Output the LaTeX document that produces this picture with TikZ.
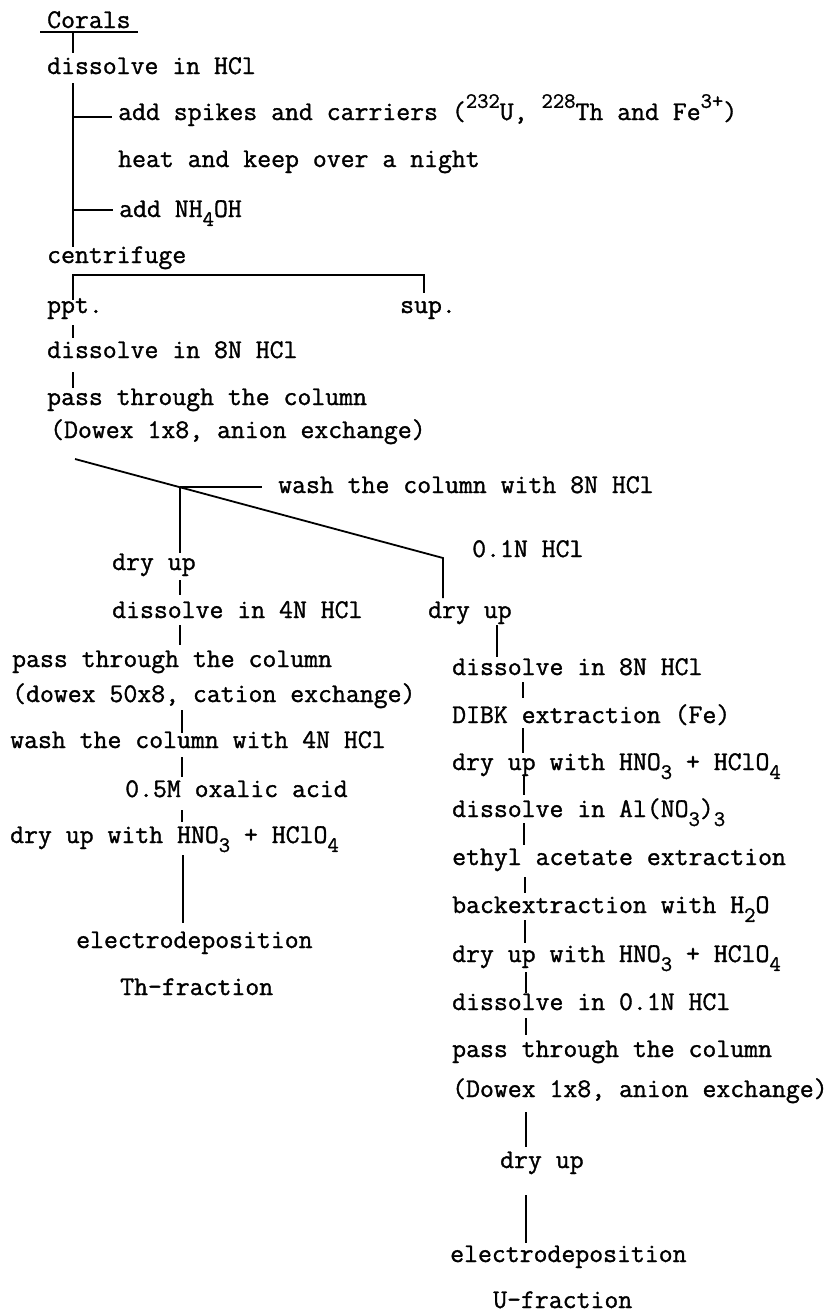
\documentclass[tikz,border=0pt]{standalone}
\usepackage{fontspec}
\setmonofont{Latin Modern Mono}[FakeBold=1.2]
\newcommand{\mysub}[1]{\raisebox{-0.33em}{\fontsize{22}{22}\selectfont #1}}
\newcommand{\mysup}[1]{\raisebox{0.45em}{\fontsize{22}{22}\selectfont #1}}
\begin{document}
\begin{tikzpicture}[x=1pt,y=-1pt,
  txt/.style={anchor=base west,inner sep=0pt,font=\ttfamily\bfseries\fontsize{27}{31}\selectfont},
  ln/.style={line width=1.8pt}]
\useasboundingbox (0,0) rectangle (825,1312);
% ---- top part
\node[txt] (corals) at (47,28) {Corals};
\coordinate (ulA) at (40,32); \coordinate (ulB) at (138,32);
\draw[ln] (ulA) -- (ulB);
\node[txt] (dis1) at (47,74) {dissolve in HCl};
\draw[ln] (73,32) -- (73,53);
\coordinate (m1) at (73,83); \coordinate (m2) at (73,247);
\draw[ln] (m1) -- (m2);
\node[txt] (spk) at (118,120) {add spikes and carriers (\mysup{232}U, \mysup{228}Th and Fe\mysup{3+})};
\node[txt] (heat) at (118,167) {heat and keep over a night};
\node[txt] (nh4) at (119,217) {add NH\mysub{4}OH};
\coordinate (b1) at (73,117); \coordinate (b2) at (73,210);
\draw[ln] (b1) -- (112,117);
\draw[ln] (b2) -- (113,210);
\node[txt] (cent) at (47,263) {centrifuge};
\coordinate (h1) at (73,275); \coordinate (h2) at (424,275);
\draw[ln] (73,300) -- (h1) -- (h2) -- (424,293);
\node[txt] (ppt) at (47,313) {ppt.};
\node[txt] (sup) at (400,313) {sup.};
\draw[ln] (73,325) -- (73,338);
\node[txt] (dis8) at (47,358) {dissolve in 8N HCl};
\draw[ln] (73,372) -- (73,388);
\node[txt] (pass1) at (47,405) {pass through the column};
\node[txt] (dow1) at (50,438) {(Dowex 1x8, anion exchange)};
% ---- split
\coordinate (dA) at (75,459);
\coordinate (dJ) at (180,487);
\coordinate (dB) at (443,558);
\draw[ln] (dA) -- (dB) -- (443,598);
\draw[ln] (dJ) -- (262,487);
\draw[ln] (dJ) -- (180,553);
\node[txt] (wash8) at (278,493) {wash the column with 8N HCl};
\node[txt] (hcl01) at (472,557) {0.1N HCl};
% ---- left (Th) branch
\node[txt] (dryL) at (112,570) {dry up};
\draw[ln] (180,580) -- (180,595);
\node[txt] (dis4) at (112,618) {dissolve in 4N HCl};
\draw[ln] (180,625) -- (180,645);
\node[txt] (pass2) at (12,667) {pass through the column};
\node[txt] (dow2) at (12,702) {(dowex 50x8, cation exchange)};
\draw[ln] (182,710) -- (182,733);
\node[txt] (wash4) at (10,748) {wash the column with 4N HCl};
\draw[ln] (182,757) -- (182,777);
\node[txt] (oxa) at (125,797) {0.5M oxalic acid};
\draw[ln] (182,810) -- (182,822);
\node[txt] (dryL2) at (10,843) {dry up with HNO\mysub{3} + HClO\mysub{4}};
\draw[ln] (183,855) -- (183,923);
\node[txt] (elL) at (76,948) {electrodeposition};
\node[txt] (th) at (120,995) {Th-fraction};
% ---- right (U) branch
\node[txt] (dryR) at (428,618) {dry up};
\draw[ln] (497,625) -- (497,657);
\node[txt] (r1) at (452,675) {dissolve in 8N HCl};
\draw[ln] (523,682) -- (523,698);
\node[txt] (r2) at (452,723) {DIBK extraction (Fe)};
\draw[ln] (523,728) -- (523,753);
\node[txt] (r3) at (452,770) {dry up with HNO\mysub{3} + HClO\mysub{4}};
\draw[ln] (524,775) -- (524,795);
\node[txt] (r4) at (452,817) {dissolve in Al(NO\mysub{3})\mysub{3}};
\draw[ln] (524,823) -- (524,845);
\node[txt] (r5) at (452,865) {ethyl acetate extraction};
\draw[ln] (525,877) -- (525,893);
\node[txt] (r6) at (452,913) {backextraction with H\mysub{2}O};
\draw[ln] (525,920) -- (525,943);
\node[txt] (r7) at (452,962) {dry up with HNO\mysub{3} + HClO\mysub{4}};
\draw[ln] (526,972) -- (526,993);
\node[txt] (r8) at (452,1010) {dissolve in 0.1N HCl};
\draw[ln] (526,1018) -- (526,1035);
\node[txt] (r9) at (452,1057) {pass through the column};
\node[txt] (r10) at (452,1097) {(Dowex 1x8, anion exchange)};
\draw[ln] (526,1112) -- (526,1147);
\node[txt] (r11) at (500,1168) {dry up};
\draw[ln] (526,1195) -- (526,1243);
\node[txt] (r12) at (450,1262) {electrodeposition};
\node[txt] (uf) at (493,1308) {U-fraction};
\end{tikzpicture}
\end{document}
